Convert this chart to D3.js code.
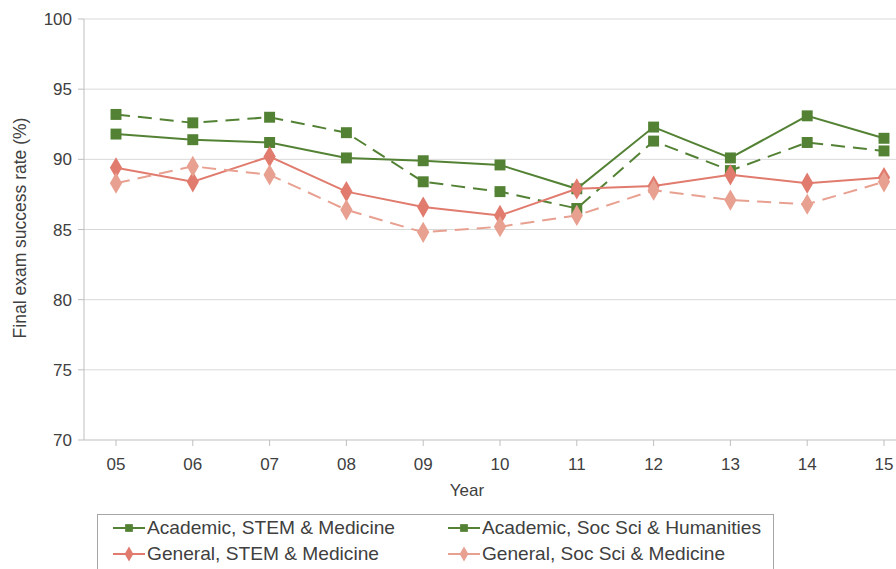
<!DOCTYPE html>
<html><head><meta charset="utf-8">
<script src="https://cdn.jsdelivr.net/npm/d3@7"></script>
<style>body{margin:0;background:#fff;font-family:"Liberation Sans",Arial,sans-serif;}</style>
</head><body>
<script>
var years = ["05","06","07","08","09","10","11","12","13","14","15"];
var acadStem = [91.8,91.4,91.2,90.1,89.9,89.6,87.9,92.3,90.1,93.1,91.5];
var acadSoc = [93.2,92.6,93.0,91.9,88.4,87.7,86.5,91.3,89.2,91.2,90.6];
var genStem = [89.4,88.4,90.2,87.7,86.6,86.0,87.9,88.1,88.9,88.3,88.7];
var genSoc = [88.3,89.5,88.9,86.4,84.8,85.2,86.0,87.8,87.1,86.8,88.4];
var yTicks = [70,75,80,85,90,95,100];

var series = [
  {name:"Academic, STEM & Medicine", v:acadStem, c:"#548235", dash:null, m:"square", w:248},
  {name:"Academic, Soc Sci & Humanities", v:acadSoc, c:"#548235", dash:"14,8", m:"square", w:279},
  {name:"General, STEM & Medicine", v:genStem, c:"#e07b6e", dash:null, m:"diamond", w:232},
  {name:"General, Soc Sci & Medicine", v:genSoc, c:"#e8a090", dash:"14,8", m:"diamond", w:243}
];

var svg = d3.select("body").append("svg").attr("width",896).attr("height",569);
var x = d3.scalePoint().domain(years).range([116,884]);
var y = d3.scaleLinear().domain([70,100]).range([440,19]);

svg.selectAll(".grid").data(yTicks.slice(1)).enter().append("line")
  .attr("x1",84).attr("x2",896).attr("y1",d=>y(d)).attr("y2",d=>y(d))
  .attr("stroke","#d9d9d9");
svg.append("line").attr("x1",84).attr("x2",84).attr("y1",19).attr("y2",440).attr("stroke","#bfbfbf");
svg.append("line").attr("x1",84).attr("x2",896).attr("y1",440).attr("y2",440).attr("stroke","#bfbfbf");
svg.selectAll(".xt").data(years).enter().append("line")
  .attr("x1",d=>x(d)).attr("x2",d=>x(d)).attr("y1",440).attr("y2",446).attr("stroke","#bfbfbf");
svg.selectAll(".yt").data(yTicks).enter().append("line")
  .attr("x1",78).attr("x2",84).attr("y1",d=>y(d)).attr("y2",d=>y(d)).attr("stroke","#bfbfbf");

svg.selectAll(".yl").data(yTicks).enter().append("text")
  .attr("x",72).attr("y",d=>y(d)+6).attr("text-anchor","end")
  .attr("font-size",17).attr("fill","#404040").text(d=>d);
svg.selectAll(".xl").data(years).enter().append("text")
  .attr("x",d=>x(d)).attr("y",470).attr("text-anchor","middle")
  .attr("font-size",17).attr("fill","#404040").text(d=>d);
svg.append("text").attr("x",467).attr("y",496).attr("text-anchor","middle")
  .attr("font-size",17).attr("fill","#404040").text("Year");
svg.append("text").attr("transform","translate(26,228) rotate(-90)").attr("text-anchor","middle")
  .attr("font-size",17.5).attr("fill","#404040").text("Final exam success rate (%)");

var line = d3.line().x((d,i)=>x(years[i])).y(d=>y(d));

function marker(g, s, cx, cy, scale){
  var t = s.m=="square" ? d3.symbolSquare : d3.symbolDiamond;
  var sz = s.m=="square" ? 120 : 130;
  g.append("path").attr("d",d3.symbol().type(t).size(sz*scale)())
    .attr("transform","translate("+cx+","+cy+")").attr("fill",s.c);
}

series.forEach(function(s){
  svg.append("path").attr("d",line(s.v)).attr("fill","none").attr("stroke",s.c)
    .attr("stroke-width",2).attr("stroke-dasharray",s.dash);
  var g = svg.append("g");
  s.v.forEach(function(v,i){ marker(g,s,x(years[i]),y(v),1); });
});

// legend
svg.append("rect").attr("x",97.5).attr("y",514.5).attr("width",676).attr("height",70)
  .attr("fill","none").attr("stroke","#a6a6a6");
series.forEach(function(s,i){
  var lx = 113 + (i%2)*335, ly = 528 + Math.floor(i/2)*26;
  svg.append("line").attr("x1",lx).attr("x2",lx+32).attr("y1",ly).attr("y2",ly)
    .attr("stroke",s.c).attr("stroke-width",2);
  marker(svg,s,lx+16,ly,0.5);
  svg.append("text").attr("x",lx+34).attr("y",ly+6).attr("font-size",18.5)
    .attr("textLength", s.w).attr("lengthAdjust","spacingAndGlyphs")
    .attr("fill","#404040").text(s.name);
});
</script>
</body></html>
